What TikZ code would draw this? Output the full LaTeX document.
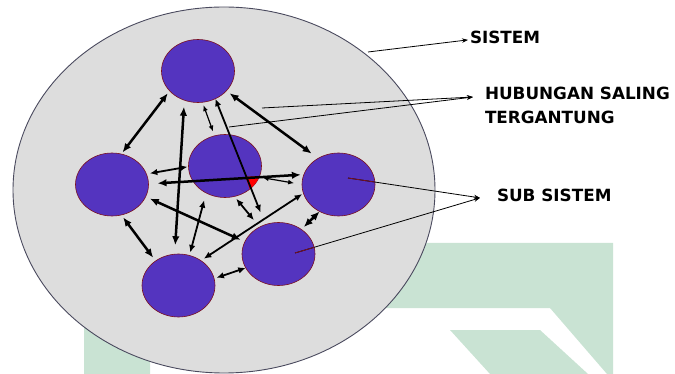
\documentclass[tikz,border=0pt]{standalone}
\usepackage{fontspec}
\setmainfont{DejaVu Sans}
\usetikzlibrary{shapes.geometric,arrows.meta,calc}
\definecolor{sysfill}{HTML}{DDDDDD}
\definecolor{sysline}{HTML}{4A4A5E}
\definecolor{subfill}{HTML}{5434BF}
\definecolor{subline}{HTML}{7A1020}
\definecolor{wmgreen}{HTML}{C9E3D3}
\begin{document}
\begin{tikzpicture}[x=1pt,y=-1pt,
  subsys/.style={ellipse,draw=subline,line width=0.6pt,fill=subfill,minimum width=73pt,minimum height=63pt,inner sep=0pt,outer sep=0pt},
  thicklink/.style={{Latex[length=9pt,width=7.5pt]}-{Latex[length=9pt,width=7.5pt]},line width=2.5pt},
  medlink/.style={{Latex[length=7.5pt,width=6.5pt]}-{Latex[length=7.5pt,width=6.5pt]},line width=1.8pt},
  thinlink/.style={{Latex[length=6pt,width=5pt]}-{Latex[length=6pt,width=5pt]},line width=1.2pt},
  ptr/.style={-{Stealth[length=6pt,width=4.5pt]},line width=0.8pt,draw=black},
  lbl/.style={inner sep=0pt,outer sep=0pt,font=\fontsize{16.8}{24}\selectfont\bfseries}
]
\useasboundingbox (0,0) rectangle (675,374);
% watermark
\fill[wmgreen] (84,243) -- (613,243) -- (613,308) -- (150,308) -- (150,374) -- (84,374) -- cycle;
\fill[wmgreen] (550,308) -- (613,308) -- (613,374) -- (607,374) -- cycle;
\fill[wmgreen] (450,330) -- (540,330) -- (588,374) -- (490,374) -- cycle;
% system
\node[ellipse,draw=sysline,line width=0.9pt,fill=sysfill,minimum width=422pt,minimum height=366pt,inner sep=0pt,outer sep=0pt] (sys) at (224,190) {};
% sub systems
\node[subsys] (T) at (198,71) {};
\node[subsys] (C) at (225,166) {};
\node[subsys] (L) at (112,184.5) {};
\node[subsys] (R) at (338.5,184.5) {};
\node[subsys] (BR) at (278.5,254) {};
\node[subsys] (BL) at (178.5,285.5) {};
% red patch
\begin{scope}
\clip (225,166) ellipse [x radius=36.5, y radius=31.5];
\fill[red] (245.5,176.8) -- (264,175.6) -- (264,194) -- (251.5,194) -- cycle;
\end{scope}
% links
\draw[thicklink,shorten <=3pt,shorten >=2pt] (T.215) -- (L.73);
\draw[thicklink,shorten <=4pt,shorten >=8pt] (T.325) -- (R.128);
\draw[thicklink,shorten <=6.5pt,shorten >=9pt] (T.245) -- (BL.97);
\draw[thinlink,shorten <=3pt,shorten >=4.5pt] (T.278) -- (C.109);
\draw[medlink,shorten >=13pt] (T.302) -- (BR.114);
\draw[medlink,shorten <=3.5pt,shorten >=1pt] (L.17) -- (C.181);
\draw[thicklink,shorten <=9pt,shorten >=3pt] (L.1) -- (R.164);
\draw[thinlink,shorten <=3.5pt,shorten >=8pt] (C.342) -- (R.180);
\draw[thicklink,shorten <=3pt,shorten >=4pt] (L.287) -- (BL.133);
\draw[thicklink,shorten <=4.5pt,shorten >=4.5pt] (L.340) -- (BR.160);
\draw[medlink,shorten <=3pt,shorten >=7.5pt] (BL.70) -- (C.235);
\draw[medlink,shorten <=3pt,shorten >=9pt] (C.287) -- (BR.125);
\draw[medlink,shorten <=3.5pt,shorten >=1.5pt] (BL.48) -- (R.194);
\draw[thicklink,shorten >=3.4pt] (R.235) -- (BR.47);
\draw[medlink,shorten <=2.5pt] (BL.11) -- (BR.203);
% labels
\node[lbl,anchor=base west] (sistem) at (470,44) {SISTEM};
\node[lbl,anchor=north west,align=left] (hub) at (485,87) {HUBUNGAN SALING\\TERGANTUNG};
\node[lbl,anchor=base west] (sub) at (497,202) {SUB SISTEM};
% pointer points
\coordinate (sysp) at (368,52);
\coordinate (h1) at (262,108);
\coordinate (h2) at (229,127);
\coordinate (s1) at ($(R.center)+(9.5,-6.5)$);
\coordinate (s2) at ($(BR.center)+(16.5,-1)$);
\coordinate (systip) at ($(sistem.west)+(-2,2)$);
\coordinate (hubtip) at ($(hub.north west)+(-12,10)$);
\coordinate (subtip) at ($(sub.west)+(-17,2)$);
\draw[ptr] (sysp) -- (systip);
\draw[ptr] (h1) -- (hubtip);
\draw[ptr] (h2) -- (hubtip);
\draw[ptr] (s1) -- (subtip);
\draw[ptr] (s2) -- (subtip);
\begin{scope}
\clip (338.5,184.5) ellipse [x radius=36.5, y radius=31.5];
\draw[line width=0.8pt,draw=subline] (s1) -- (subtip);
\end{scope}
\begin{scope}
\clip (278.5,254) ellipse [x radius=36.5, y radius=31.5];
\draw[line width=0.8pt,draw=subline] (s2) -- (subtip);
\end{scope}
\end{tikzpicture}
\end{document}
